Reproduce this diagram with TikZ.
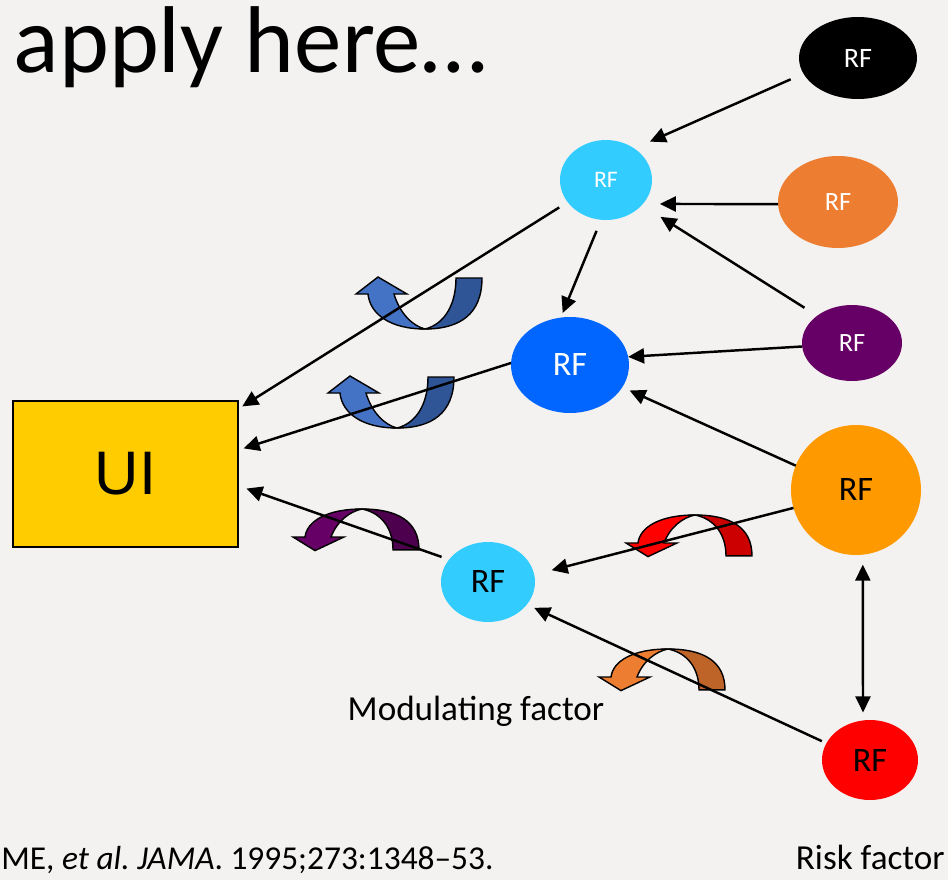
\documentclass[tikz,border=0pt]{standalone}
\usepackage{fontspec}
\setmainfont{Carlito}
\newfontfamily\uifont{Liberation Sans}
\usetikzlibrary{shapes.geometric,arrows.meta}

\definecolor{slidebg}{RGB}{244,242,240}
\definecolor{rfcyan}{RGB}{51,204,255}
\definecolor{rforange}{RGB}{237,125,49}
\definecolor{rfblue}{RGB}{0,102,255}
\definecolor{rfpurple}{RGB}{102,0,102}
\definecolor{rfamber}{RGB}{255,153,0}
\definecolor{rfred}{RGB}{255,0,0}
\definecolor{uiyellow}{RGB}{255,204,0}
\definecolor{bluelt}{RGB}{68,114,196}
\definecolor{bluedk}{RGB}{47,85,151}
\definecolor{purplelt}{RGB}{102,0,102}
\definecolor{purpledk}{RGB}{77,0,77}
\definecolor{redlt}{RGB}{255,0,0}
\definecolor{reddk}{RGB}{204,0,0}
\definecolor{orangelt}{RGB}{237,125,49}
\definecolor{orangedk}{RGB}{190,100,40}

\begin{document}
\begin{tikzpicture}[x=0.02cm,y=-0.02cm,
rf/.style={ellipse,inner sep=0pt,outer sep=0pt},
smallrf/.style={rf,text=white},
bigrf/.style={rf,font=\fontsize{19.5}{22}\selectfont},
uibox/.style={draw,line width=1pt,fill=uiyellow,rectangle,inner sep=0pt,minimum width=4.5cm,minimum height=2.92cm,font=\uifont\fontsize{35}{40}\selectfont},
label/.style={inner sep=0pt,font=\fontsize{20}{24}\selectfont},
link/.style={-{Triangle[length=0.32cm,width=0.3cm]},line width=1.4pt},
pics/turnarrow/.style 2 args={code={
  \filldraw[fill=#2,line width=0.8pt] (0,0) .. controls (35,0) and (57,-15) .. (57,-51) -- (31,-51) .. controls (31,-25) and (20,-5) .. cycle;
  \filldraw[fill=#1,line width=0.8pt] (0,0) .. controls (-35,0) and (-55,-15) .. (-57,-35) -- (-69,-35) -- (-47,-52) -- (-18,-35) -- (-31,-35) .. controls (-25,-15) and (-12,-3) .. cycle;
}}]

\useasboundingbox (0,0) rectangle (948,880);
\clip (0,0) rectangle (948,880);
\fill[slidebg] (0,0) rectangle (948,880);

\node[anchor=base east,inner sep=0pt,font=\fontsize{54}{60}\selectfont] (title) at (487,72) {apply here…};

\draw (858,58) node[smallrf,fill=black,minimum width=2.36cm,minimum height=1.64cm,font=\fontsize{16}{19}\selectfont] (black) {RF};
\draw (606,180) node[smallrf,fill=rfcyan,minimum width=1.84cm,minimum height=1.6cm,font=\fontsize{13.5}{16}\selectfont] (cyantop) {RF};
\draw (838,202) node[smallrf,fill=rforange,minimum width=2.4cm,minimum height=1.84cm,font=\fontsize{15}{18}\selectfont] (orange) {RF};
\draw (852,343) node[smallrf,fill=rfpurple,minimum width=2cm,minimum height=1.52cm,font=\fontsize{15}{18}\selectfont] (purple) {RF};
\draw (570,365) node[bigrf,fill=rfblue,text=white,minimum width=2.36cm,minimum height=1.92cm] (blue) {RF};
\draw (856,490) node[bigrf,fill=rfamber,minimum width=2.6cm,minimum height=2.6cm] (amber) {RF};
\draw (488,582) node[bigrf,fill=rfcyan,minimum width=1.88cm,minimum height=1.6cm] (cyanlow) {RF};
\draw (870,760) node[bigrf,fill=rfred,minimum width=1.92cm,minimum height=1.6cm] (red) {RF};
\draw (125.5,474) node[uibox] (ui) {UI};

\node[label] (modlabel) at (476,711) {Modulating factor};
\node[label,anchor=base east] (risklabel) at (945,869) {Risk factor};
\node[label,anchor=base west,font=\fontsize{19}{23}\selectfont] (cite) at (1,869) {ME, \textit{et al.\ JAMA}. 1995;273:1348–53.};

% modulating arrows
\pic at (425,329) {turnarrow={bluelt}{bluedk}};
\pic at (397,428) {turnarrow={bluelt}{bluedk}};
\pic[yscale=-0.8] at (362,509) {turnarrow={purplelt}{purpledk}};
\pic[yscale=-0.8] at (695,515) {turnarrow={redlt}{reddk}};
\pic[yscale=-0.8] at (668,649) {turnarrow={orangelt}{orangedk}};

\draw[link,shorten <=0.28cm,shorten >=0.34cm] (black.196) -- (cyantop.48);
\draw[link,shorten >=0.34cm] (orange.182) -- (cyantop.-33);
\draw[link,shorten <=0.3cm,shorten >=0.44cm] (purple.142) -- (cyantop.-35);
\draw[link,shorten <=0.24cm,shorten >=0.1cm] (cyantop.-97) -- (blue.101);
\draw[link] (purple.184) -- (blue.8);
\draw[link,shorten >=0.16cm] (amber.158) -- (blue.-23);
\draw[link,shorten <=0.2cm,shorten >=0.08cm] (cyantop.210) -- (ui.30);
\draw[link,shorten >=0.1cm] (blue.178) -- (ui.12);
\draw[link,shorten <=0.16cm,shorten >=0.16cm] (cyanlow.150) -- (ui.-6);
\draw[link,shorten >=0.36cm] (amber.196) -- (cyanlow.9);
\draw[link,shorten <=0.1cm,shorten >=0.16cm] (red.159) -- (cyanlow.-30);
\draw[link,{Triangle[length=0.32cm,width=0.3cm]}-{Triangle[length=0.32cm,width=0.3cm]},shorten <=0.2cm,shorten >=0.16cm] (amber.-84) -- (red.100);
\end{tikzpicture}
\end{document}
